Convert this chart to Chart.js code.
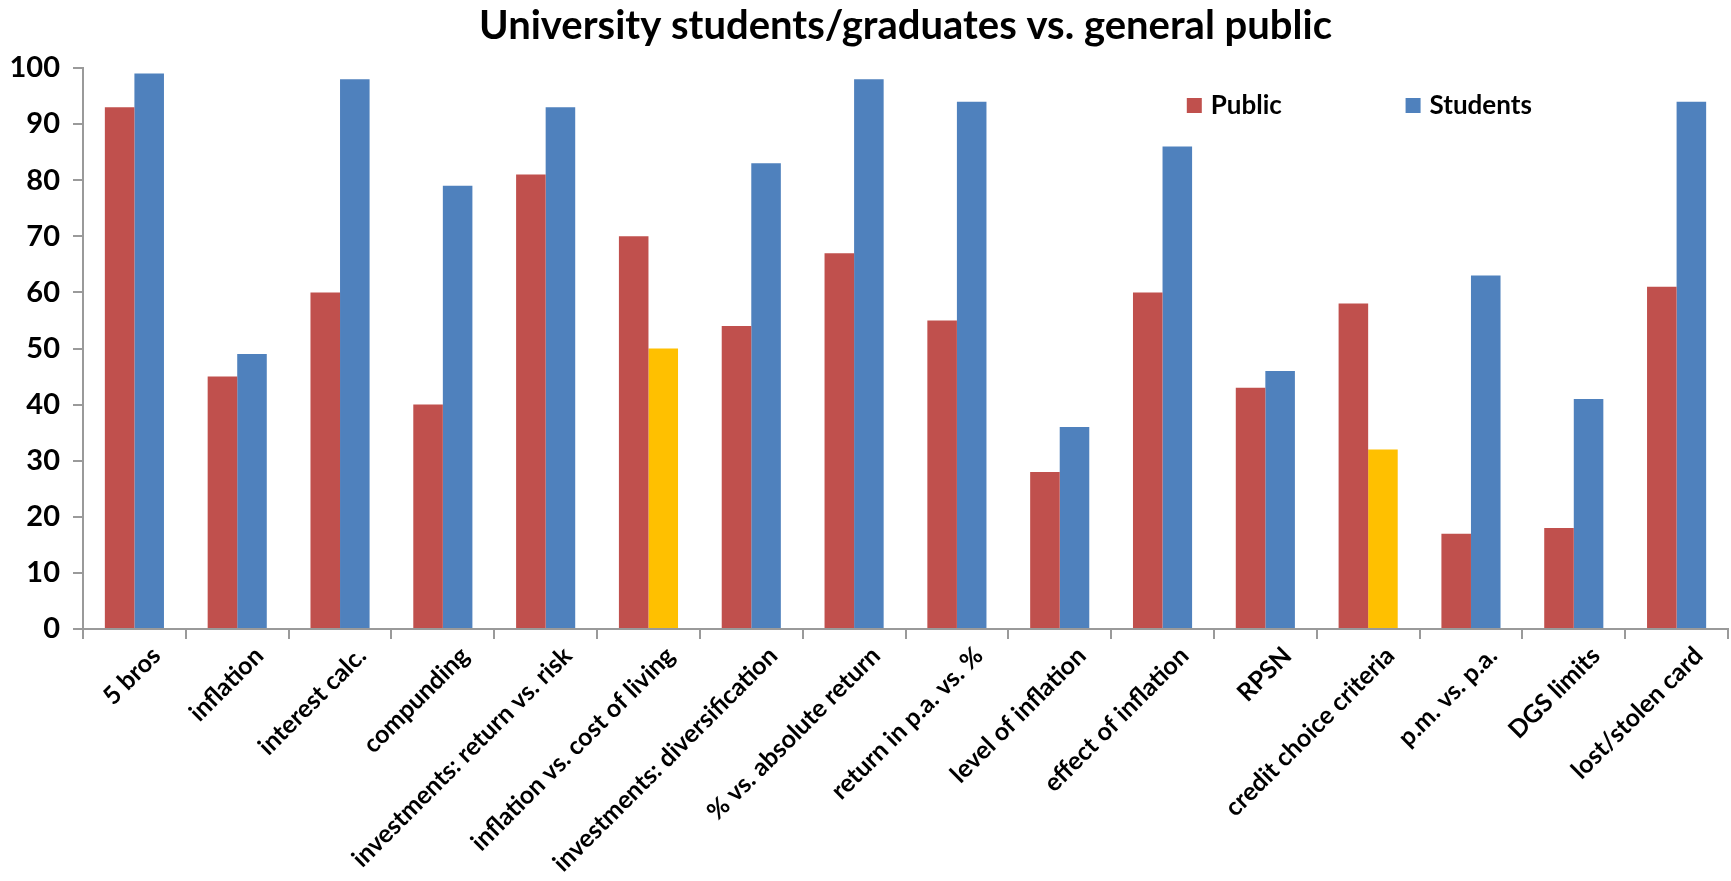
<!DOCTYPE html>
<html>
<head>
<meta charset="utf-8">
<title>University students/graduates vs. general public</title>
<script src="https://cdn.jsdelivr.net/npm/chart.js@4.4.1/dist/chart.umd.min.js"></script>
<style>
	html, body { margin: 0; padding: 0; background: #fff; }
	#wrap { width: 1731px; height: 881px; }
</style>
</head>
<body>
<div id="wrap"><canvas id="knowledge"></canvas></div>
<script>
// Share of correct answers per question, in %
var categories = [
	"5 bros",
	"inflation",
	"interest calc.",
	"compunding",
	"investments: return vs. risk",
	"inflation vs. cost of living",
	"investments: diversification",
	"% vs. absolute return",
	"return in p.a. vs. %",
	"level of inflation",
	"effect of inflation",
	"RPSN",
	"credit choice criteria",
	"p.m. vs. p.a.",
	"DGS limits",
	"lost/stolen card",
];
var publicValues = [93, 45, 60, 40, 81, 70, 54, 67, 55, 28, 60, 43, 58, 17, 18, 61];
var studentValues = [99, 49, 98, 79, 93, 50, 83, 98, 94, 36, 86, 46, 32, 63, 41, 94];
var yTicks = [0, 10, 20, 30, 40, 50, 60, 70, 80, 90, 100];

// questions where students did worse than the public
var studentsBehind = ["inflation vs. cost of living", "credit choice criteria"];

var RED = "#C0504D";
var BLUE = "#4F81BD";
var AMBER = "#FFC000";
var AXIS = "#9a9a9a";
var FONT = "Lato, 'Open Sans', sans-serif";

var studentColors = categories.map(function (c) {
	return studentsBehind.indexOf(c) >= 0 ? AMBER : BLUE;
});

// Legend drawn inside the plot, top right
var insideLegend = {
	id: "insideLegend",
	afterDraw: function (chart) {
		var ctx = chart.ctx;
		var area = chart.chartArea;
		var w = area.right - area.left;
		var spots = [0.671, 0.804];
		var y = area.top + 37;
		ctx.save();
		ctx.font = "bold 26px " + FONT;
		ctx.textBaseline = "middle";
		ctx.textAlign = "left";
		chart.data.datasets.forEach(function (ds, i) {
			var x = area.left + w * spots[i];
			ctx.fillStyle = ds.legendColor;
			ctx.fillRect(x, y - 7, 15, 15);
			ctx.fillStyle = "#000";
			ctx.fillText(ds.label, x + 24, y + 1);
		});
		ctx.restore();
	},
};

var ctx = document.getElementById("knowledge");
var config = {
	type: "bar",
	data: {
		labels: categories,
		datasets: [
			{
				label: "Public",
				data: publicValues,
				backgroundColor: RED,
				legendColor: RED,
				borderWidth: 0,
				categoryPercentage: 0.575,
				barPercentage: 1.0,
			},
			{
				label: "Students",
				data: studentValues,
				backgroundColor: studentColors,
				legendColor: BLUE,
				borderWidth: 0,
				categoryPercentage: 0.575,
				barPercentage: 1.0,
			},
		],
	},
	plugins: [insideLegend],
	options: {
		responsive: true,
		maintainAspectRatio: false,
		animation: false,
		layout: {
			padding: { top: 0, left: 0, right: 3, bottom: 0 },
		},
		plugins: {
			title: {
				display: true,
				fullSize: false,
				text: "University students/graduates vs. general public",
				color: "#000",
				font: { family: FONT, size: 40, weight: "bold" },
				padding: { top: 2, bottom: 18 },
			},
			legend: { display: false },
			tooltip: { enabled: false },
		},
		scales: {
			x: {
				offset: true,
				border: { color: AXIS, width: 2 },
				grid: {
					display: true,
					drawOnChartArea: false,
					drawTicks: true,
					tickLength: 10,
					color: AXIS,
					lineWidth: 2,
				},
				ticks: {
					autoSkip: false,
					minRotation: 45,
					maxRotation: 45,
					color: "#000",
					padding: 2,
					labelOffset: 22,
					font: { family: FONT, size: 25, weight: "bold" },
				},
				afterFit: function (scale) {
					scale.height = 252;
				},
			},
			y: {
				min: 0,
				max: 100,
				afterBuildTicks: function (scale) {
					scale.ticks = yTicks.map(function (v) {
						return { value: v };
					});
				},
				border: { color: AXIS, width: 2 },
				grid: {
					display: true,
					drawOnChartArea: false,
					drawTicks: true,
					tickLength: 10,
					color: AXIS,
					lineWidth: 2,
				},
				ticks: {
					color: "#000",
					padding: 13,
					font: { family: FONT, size: 29, weight: "bold" },
				},
				afterFit: function (scale) {
					scale.width = 83;
				},
			},
		},
	},
};

window.knowledgeChart = new Chart(ctx, config);
</script>
</body>
</html>
